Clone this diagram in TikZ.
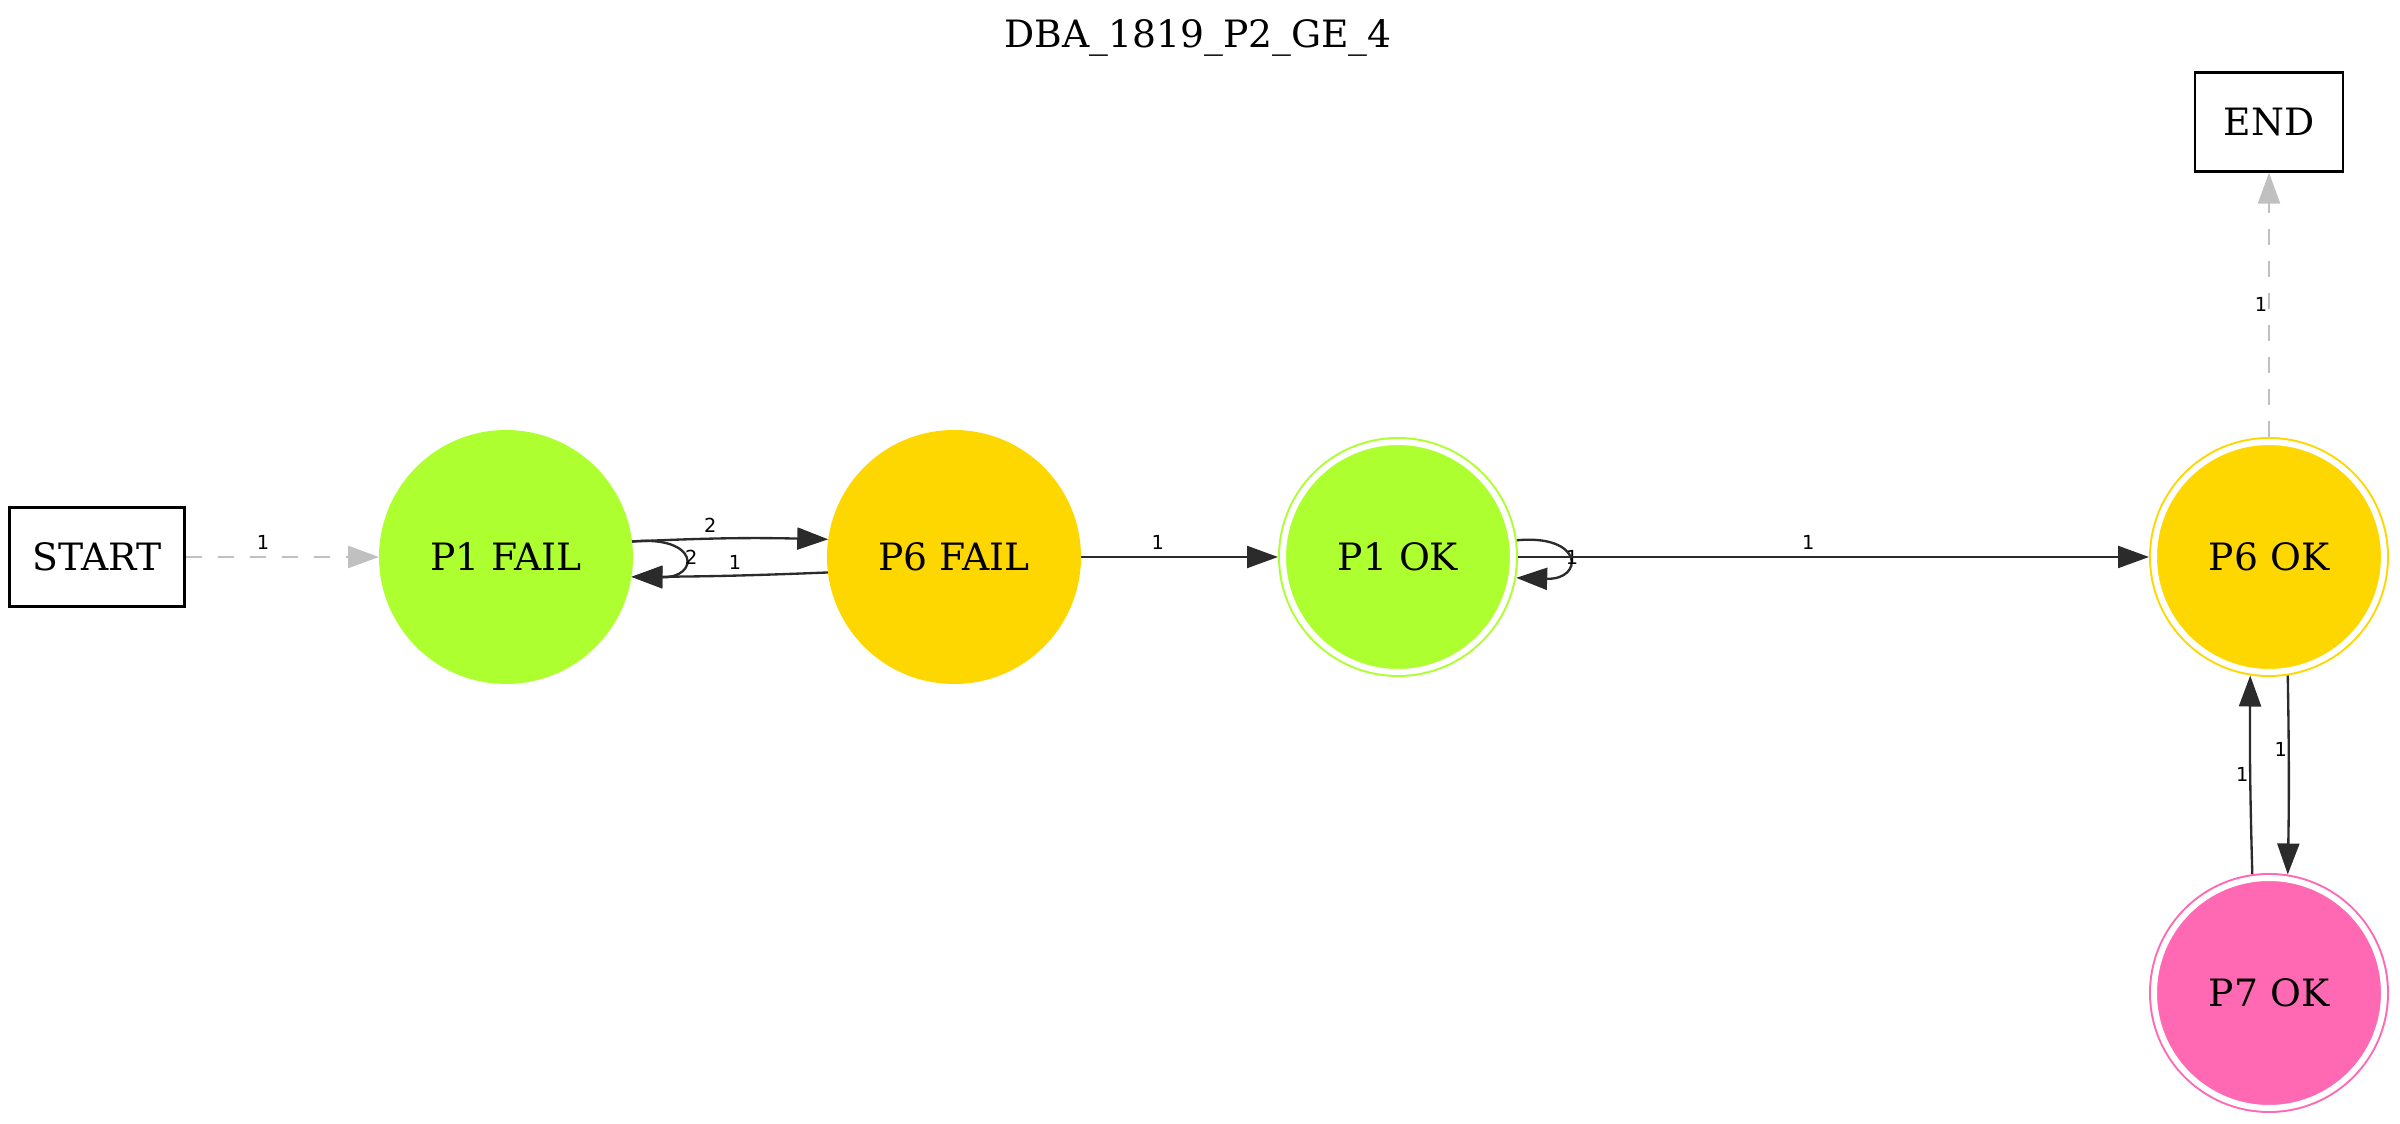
\documentclass[tikz,border=0pt]{standalone}
\usepackage{fontspec}
\setmainfont{DejaVu Serif}
\newfontfamily\lblfont{DejaVu Sans}
\usetikzlibrary{arrows.meta}
\definecolor{gy}{HTML}{ADFF2F}
\definecolor{gd}{HTML}{FFD700}
\definecolor{hp}{HTML}{FF69B4}
\definecolor{ed}{HTML}{2B2B2B}
\definecolor{sv}{HTML}{C0C0C0}
\begin{document}
\begin{tikzpicture}[x=0.3pt,y=-0.3pt,
  every node/.style={font=\fontsize{11.3}{13}\selectfont},
  plainst/.style={circle, fill=#1, draw=none, minimum size=76.2pt, inner sep=0pt, outer sep=0pt},
  dblst/.style={circle, fill=#1, draw=#1, double=white, line width=0.6pt, double distance=1.8pt, minimum size=69pt, inner sep=0pt, outer sep=1.5pt},
  boxst/.style={rectangle, draw=black, line width=0.8pt, inner sep=0pt, outer sep=0.4pt},
  conn/.style={draw=ed, line width=0.7pt, -{Triangle[length=9.3pt,width=6.6pt]}},
  dconn/.style={draw=sv, line width=0.7pt, dash pattern=on 4.8pt off 4.8pt, -{Triangle[length=9.3pt,width=6.6pt]}},
  lbl/.style={font=\lblfont\fontsize{5.8}{6}\selectfont, inner sep=0pt, text=black},
]
\useasboundingbox (0,0) rectangle (2400,1124);
\node (title) at (1198,38) {DBA\_1819\_P2\_GE\_4};
\node[boxst, minimum width=52.5pt, minimum height=29.7pt] (start) at (97,557) {START};
\node[boxst, minimum width=44.4pt, minimum height=29.6pt] (end) at (2269,122) {END};
\node[plainst=gy] (p1fail) at (506,557) {P1 FAIL};
\node[plainst=gd] (p6fail) at (954,557) {P6 FAIL};
\node[dblst=gy] (p1ok) at (1398,557) {P1 OK};
\node[dblst=gd] (p6ok) at (2269,557) {P6 OK};
\node[dblst=hp] (p7ok) at (2269,993) {P7 OK};

\draw[dconn] (start) -- node[lbl, pos=0.4, above=1.8pt] {1} (p1fail);
\draw[conn] (p1fail.7.6) to[bend left=2] node[lbl, pos=0.39, above=1.5pt] {2} (p6fail.172.4);
\draw[conn] (p6fail.187.8) to[bend left=1] node[lbl, pos=0.47, above=1.5pt] {1} (p1fail.351.7);
\draw[conn] (p1fail.7.6) .. controls (700,535) and (700,578) .. node[lbl, pos=0.5, right=0.3pt] {2} (p1fail.351.7);
\draw[conn] (p6fail) -- node[lbl, pos=0.39, above=1.8pt] {1} (p1ok);
\draw[conn] (p1ok.8.6) .. controls (1584,534) and (1584,580) .. node[lbl, pos=0.5, xshift=1.5pt] {1} (p1ok.350.7);
\draw[conn] (p1ok) -- node[lbl, pos=0.46, above=1.8pt] {1} (p6ok);
\draw[dconn] (p6ok) -- node[lbl, pos=0.5, xshift=-2.4pt] {1} (end);
\draw[conn] (p6ok.-81.9) to[bend left=1] node[lbl, pos=0.36, xshift=-2.4pt] {1} (p7ok.81.9);
\draw[conn] (p7ok.98.1) to[bend left=1] node[lbl, pos=0.5, xshift=-2.4pt] {1} (p6ok.261.9);
\end{tikzpicture}
\end{document}
